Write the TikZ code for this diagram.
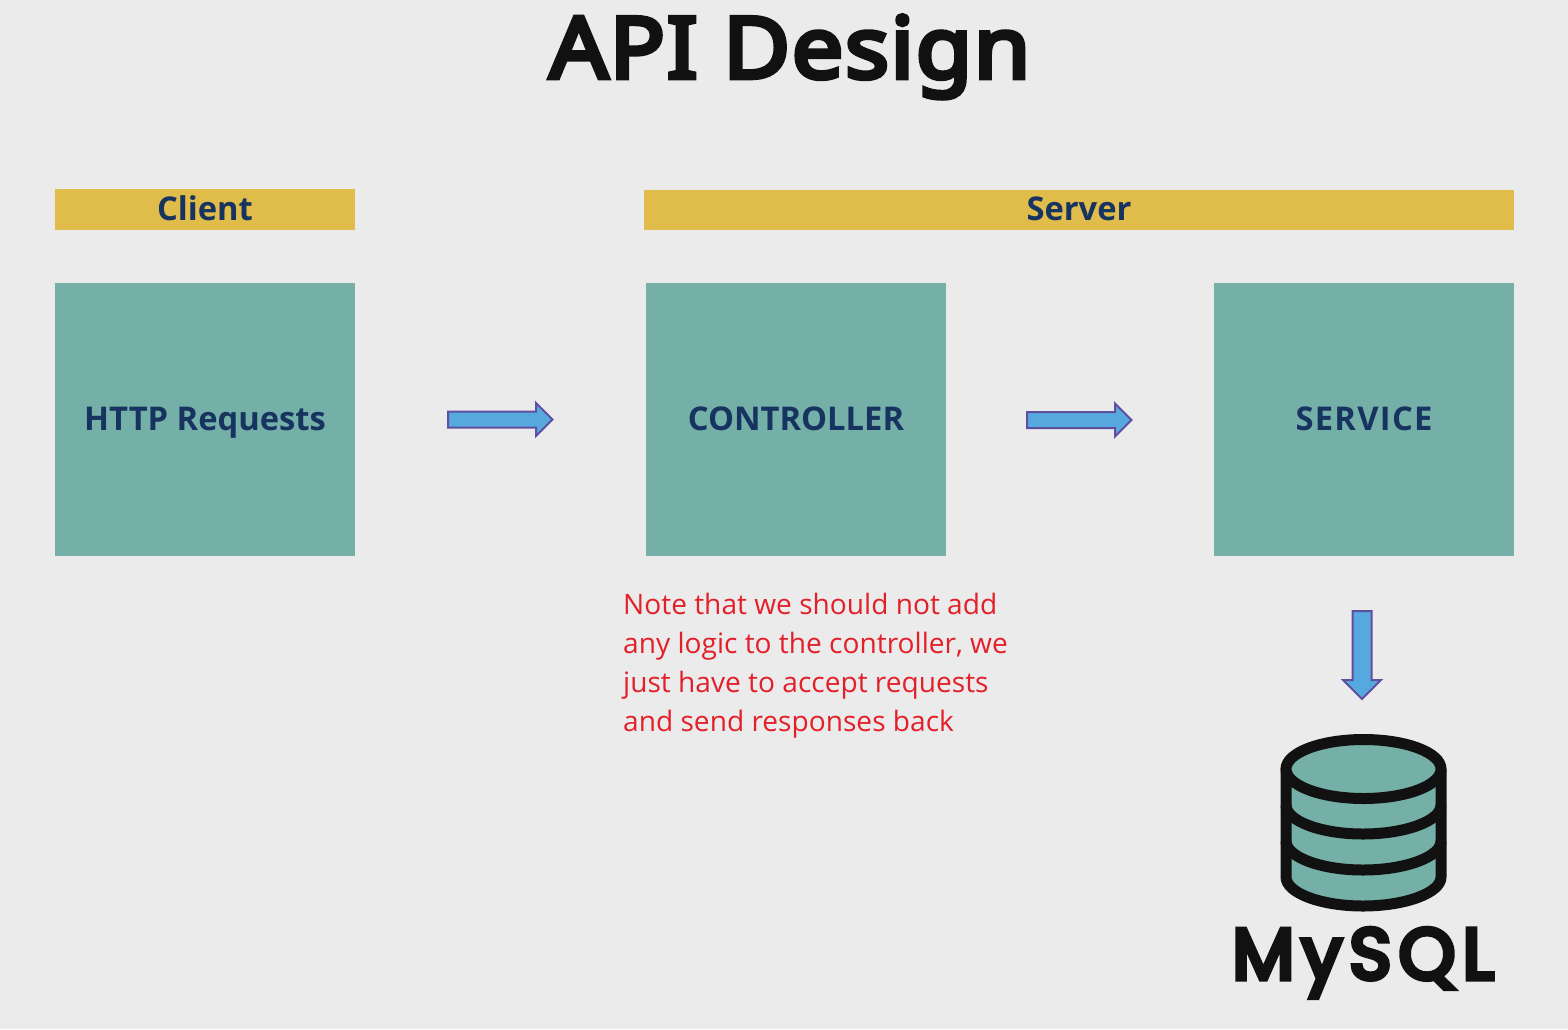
\documentclass[tikz,border=0pt]{standalone}
\usepackage{fontspec}
\setmainfont{Open Sans}
\newfontfamily\titlefont[FakeBold=5.5,FakeStretch=1.08,LetterSpace=1.8]{Noto Sans}
\newfontfamily\notefont{Open Sans}
\newfontfamily\logofont[LetterSpace=10,FakeBold=7]{Poppins}
\usetikzlibrary{shapes.arrows}
\definecolor{bgc}{HTML}{EBEBEB}
\definecolor{bandc}{HTML}{E0BC4A}
\definecolor{boxc}{HTML}{74B0A7}
\definecolor{navyc}{HTML}{17335F}
\definecolor{redc}{HTML}{E3202A}
\definecolor{blackc}{HTML}{111111}
\definecolor{arrowfill}{HTML}{56A9DE}
\definecolor{arrowedge}{HTML}{5F4F9E}
\tikzset{
  bandbox/.style={fill=bandc,draw=none,inner sep=0pt,text=navyc,text height=21pt,text depth=0pt,font=\fontsize{32.7}{36}\selectfont\bfseries},
  mainbox/.style={fill=boxc,draw=none,inner sep=0pt,minimum width=300pt,minimum height=273pt,text=navyc,text height=21pt,text depth=0pt,font=\fontsize{32.7}{36}\selectfont\bfseries},
  blockarrow/.style={single arrow,fill=arrowfill,draw=arrowedge,line width=2pt,inner sep=0pt,
    text height=7pt,text depth=7pt,
    minimum height=104.5pt,minimum width=31pt,single arrow head extend=8.5pt,single arrow head indent=0pt,anchor=tail},
  dbline/.style={draw=blackc,line width=11pt,line join=round}
}
\begin{document}
\begin{tikzpicture}[x=1pt,y=-1pt]
\path[use as bounding box,fill=bgc] (0,0) rectangle (1568,1029);
\node[font=\titlefont\fontsize{85}{96}\selectfont,text=blackc,anchor=base] (title) at (790,78) {API Design};
\node[bandbox,minimum width=300pt,minimum height=41pt] (client) at (205,209.5) {Client};
\node[bandbox,minimum width=870pt,minimum height=40pt] (server) at (1079,210) {Server};
\node[mainbox] (http) at (205,419.5) {HTTP Requests};
\node[mainbox] (ctrl) at (796,419.5) {CONTROLLER};
\node[mainbox] (svc) at (1364,419.5) {\addfontfeature{LetterSpace=4}SERVICE};
\node[blockarrow] (a1) at (447,419.5) {};
\node[blockarrow] (a2) at (1026,420) {};
\node[blockarrow,rotate=-90,minimum height=88pt,minimum width=36pt,text height=8.5pt,text depth=8.5pt,single arrow head extend=9.5pt] (a3) at (1362,610) {};
\node[anchor=north west,inner sep=0pt,align=left,text=redc,font=\notefont\fontsize{28.1}{39}\selectfont] (note) at (623,592.5)
 {Note that we should not add\\any logic to the controller, we\\just have to accept requests\\and send responses back};
% database
\path[dbline,fill=boxc] (1286,769) -- (1286,877) .. controls (1286,893) and (1321,906) .. (1363,906) .. controls (1405,906) and (1441,893) .. (1441,877) -- (1441,769) -- cycle;
\path[dbline] (1286,841) .. controls (1286,857) and (1321,870) .. (1363,870) .. controls (1405,870) and (1441,857) .. (1441,841);
\path[dbline] (1286,805) .. controls (1286,821) and (1321,834) .. (1363,834) .. controls (1405,834) and (1441,821) .. (1441,805);
\path[dbline,fill=boxc] (1363.5,769) ellipse[x radius=77.5,y radius=29.5];
\node[anchor=base,inner sep=0pt,text=blackc,font=\logofont\fontsize{72}{90}\selectfont] (mysql) at (1363,979) {MySQL};
\end{tikzpicture}
\end{document}
